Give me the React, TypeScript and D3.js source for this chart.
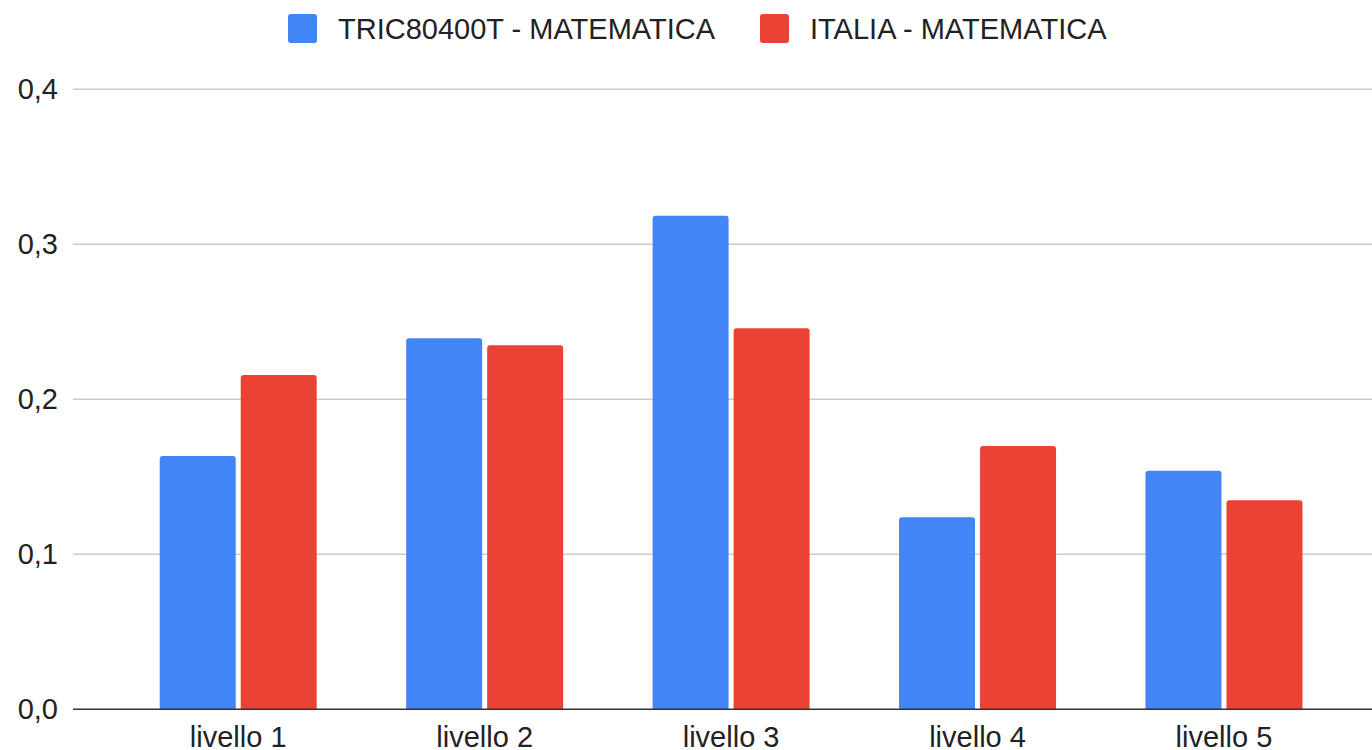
import React, { useEffect, useRef } from 'react'
import * as d3 from 'd3'

const categories = ['livello 1', 'livello 2', 'livello 3', 'livello 4', 'livello 5']
const seriesNames = ['TRIC80400T - MATEMATICA', 'ITALIA - MATEMATICA']
const tricValues = [0.1634, 0.2394, 0.3185, 0.1239, 0.1539]
const italiaValues = [0.2157, 0.2348, 0.2458, 0.1699, 0.1348]
const yTicks = [0, 0.1, 0.2, 0.3, 0.4]
const colors = ['#4285F4', '#EA4335']

const WIDTH = 1372
const HEIGHT = 750
const FONT = '"Liberation Sans", Arial, sans-serif'

// bar with rounded top corners only
const topRoundedRect = (x: number, y: number, w: number, h: number, r: number) => {
  const rr = Math.min(r, h, w / 2)
  return `M${x},${y + h}V${y + rr}Q${x},${y} ${x + rr},${y}H${x + w - rr}Q${x + w},${y} ${x + w},${y + rr}V${y + h}Z`
}

const App: React.FC = () => {
  const svgRef = useRef<SVGSVGElement>(null)

  useEffect(() => {
    const svg = d3.select(svgRef.current)
    svg.selectAll('*').remove()

    const plotLeft = 73
    const plotRight = WIDTH
    const yScale = d3.scaleLinear().domain([0, 0.4]).range([709.3, 89.3])
    const xScale = d3.scaleBand<string>().domain(categories).range([115, 1347.2]).padding(0)
    const groupHalf = 78.5
    const inner = d3
      .scaleBand<string>()
      .domain(seriesNames)
      .range([-groupHalf, groupHalf])
      .paddingInner(5 / 81)

    const fmt = (v: number) => v.toFixed(1).replace('.', ',')

    // gridlines
    const grid = svg.append('g')
    grid
      .selectAll('line')
      .data(yTicks.filter((t) => t !== 0))
      .enter()
      .append('line')
      .attr('x1', plotLeft)
      .attr('x2', plotRight)
      .attr('y1', (d) => yScale(d))
      .attr('y2', (d) => yScale(d))
      .attr('stroke', '#cccccc')
      .attr('stroke-width', 1.5)

    // y labels
    svg
      .append('g')
      .selectAll('text')
      .data(yTicks)
      .enter()
      .append('text')
      .attr('x', 58)
      .attr('y', (d) => yScale(d))
      .attr('dy', '0.35em')
      .attr('text-anchor', 'end')
      .attr('font-family', FONT)
      .attr('font-size', 29)
      .attr('fill', '#222')
      .text((d) => fmt(d))

    // bars
    const seriesData = [tricValues, italiaValues]
    seriesData.forEach((vals, si) => {
      svg
        .append('g')
        .selectAll('path')
        .data(vals)
        .enter()
        .append('path')
        .attr('fill', colors[si])
        .attr('d', (d, i) => {
          const cx = (xScale(categories[i]) as number) + xScale.bandwidth() / 2
          const x = cx + (inner(seriesNames[si]) as number)
          const y = yScale(d)
          return topRoundedRect(x, y, inner.bandwidth(), yScale(0) - y, 3)
        })
    })

    // baseline
    svg
      .append('line')
      .attr('x1', plotLeft)
      .attr('x2', plotRight)
      .attr('y1', yScale(0))
      .attr('y2', yScale(0))
      .attr('stroke', '#333')
      .attr('stroke-width', 1.5)

    // x labels
    svg
      .append('g')
      .selectAll('text')
      .data(categories)
      .enter()
      .append('text')
      .attr('x', (d) => (xScale(d) as number) + xScale.bandwidth() / 2)
      .attr('y', 747)
      .attr('text-anchor', 'middle')
      .attr('font-family', FONT)
      .attr('font-size', 29)
      .attr('fill', '#222')
      .text((d) => d)

    // legend
    const legendX = [288, 760]
    const legend = svg.append('g')
    seriesNames.forEach((name, i) => {
      legend
        .append('rect')
        .attr('x', legendX[i])
        .attr('y', 14)
        .attr('width', 29)
        .attr('height', 29)
        .attr('rx', 3)
        .attr('fill', colors[i])
      legend
        .append('text')
        .attr('x', legendX[i] + 50)
        .attr('y', 39)
        .attr('font-family', FONT)
        .attr('font-size', 29)
        .attr('fill', '#222')
        .text(name)
    })
  }, [])

  return (
    <svg
      ref={svgRef}
      width={WIDTH}
      height={HEIGHT}
      style={{ position: 'absolute', left: 0, top: 0, background: '#fff' }}
    />
  )
}

export default App
